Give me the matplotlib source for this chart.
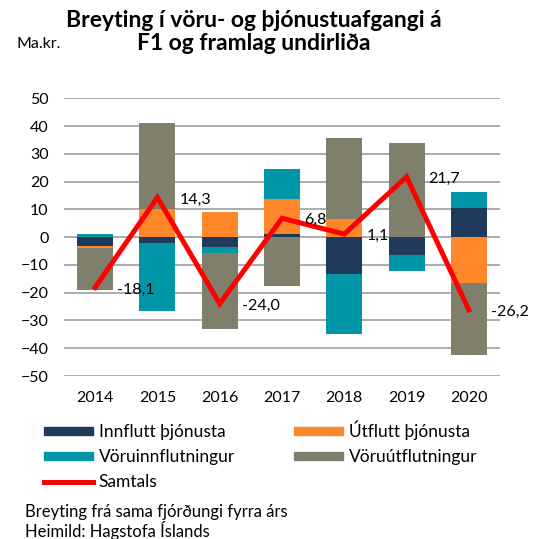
import numpy as np
import matplotlib.pyplot as plt
from matplotlib.patches import Patch
from matplotlib.lines import Line2D

plt.rcParams['font.family'] = ['Lato', 'DejaVu Sans']

years = ['2014', '2015', '2016', '2017', '2018', '2019', '2020']
innflutt_thjonusta = [-3.1, -2.1, -3.5, 1.3, -13.3, -6.4, 10.6]
utflutt_thjonusta = [-0.7, 10.1, 9.1, 12.4, 6.4, 0.0, -16.4]
voruinnflutningur = [1.1, -24.6, -2.3, 10.8, -21.4, -5.8, 5.5]
voruutflutningur = [-15.4, 30.9, -27.3, -17.7, 29.4, 33.9, -25.9]
samtals = [-18.1, 14.3, -24.0, 6.8, 1.1, 21.7, -26.2]

series = [
    ('Innflutt þjónusta', innflutt_thjonusta, '#1f3a5a'),
    ('Útflutt þjónusta', utflutt_thjonusta, '#ff8629'),
    ('Vöruinnflutningur', voruinnflutningur, '#0096a8'),
    ('Vöruútflutningur', voruutflutningur, '#807f6c'),
]

fig = plt.figure(figsize=(5.44, 5.39), dpi=100)
ax = fig.add_axes([64 / 544, 1 - 376 / 539, 436 / 544, 277.7 / 539])

x = np.arange(len(years))
pos_bottom = np.zeros(len(years))
neg_bottom = np.zeros(len(years))
for name, vals, color in series:
    vals = np.array(vals)
    bottom = np.where(vals >= 0, pos_bottom, neg_bottom)
    ax.bar(x, vals, 0.58, bottom=bottom, color=color, zorder=2)
    pos_bottom += np.clip(vals, 0, None)
    neg_bottom += np.clip(vals, None, 0)

ax.plot(x, samtals, color='#ff0000', lw=3.6, zorder=3, solid_joinstyle='miter')
for xi, v in zip(x, samtals):
    ax.annotate(f'{v:.1f}'.replace('.', ','), (xi, v), xytext=(22, -2),
                textcoords='offset pixels', ha='left', va='center',
                fontsize=11.5, zorder=4)

ax.set_xlim(-0.5, 6.5)
ax.set_ylim(-50, 50)
ax.set_yticks(range(-50, 51, 10))
ax.set_xticks(x)
ax.set_xticklabels(years)
ax.tick_params(length=0, labelsize=11.5)
ax.tick_params(axis='y', pad=11)
ax.tick_params(axis='x', pad=11)
ax.grid(axis='y', color='#a6a6a6', lw=1.3, zorder=0)
for s in ax.spines.values():
    s.set_visible(False)

fig.text(254 / 544, 1 - 27 / 539, 'Breyting í vöru- og þjónustuafgangi á',
         ha='center', va='baseline', fontsize=16.5, fontweight='bold')
fig.text(254 / 544, 1 - 50 / 539, 'F1 og framlag undirliða',
         ha='center', va='baseline', fontsize=16.5, fontweight='bold')
fig.text(17 / 544, 1 - 48 / 539, 'Ma.kr.', ha='left', va='baseline', fontsize=11.5)

handles = [Patch(color=c) for _, _, c in series]
labels = [n for n, _, _ in series]
order = [0, 2, 4, 1, 3]
handles.append(Line2D([], [], color='#ff0000', lw=3.6))
labels.append('Samtals')
fig.legend([handles[i] for i in order], [labels[i] for i in order],
           ncol=2, loc='upper left', bbox_to_anchor=(44 / 544, 1 - 421 / 539),
           frameon=False, fontsize=12.5, handlelength=2.85, handleheight=0.35,
           handletextpad=0.3, columnspacing=3.4, labelspacing=0.5,
           borderaxespad=0, borderpad=0)

fig.text(25 / 544, 1 - 517 / 539, 'Breyting frá sama fjórðungi fyrra árs',
         ha='left', va='baseline', fontsize=12)
fig.text(25 / 544, 1 - 537 / 539, 'Heimild: Hagstofa Íslands',
         ha='left', va='baseline', fontsize=12)

fig.savefig('out.png', dpi=100)
